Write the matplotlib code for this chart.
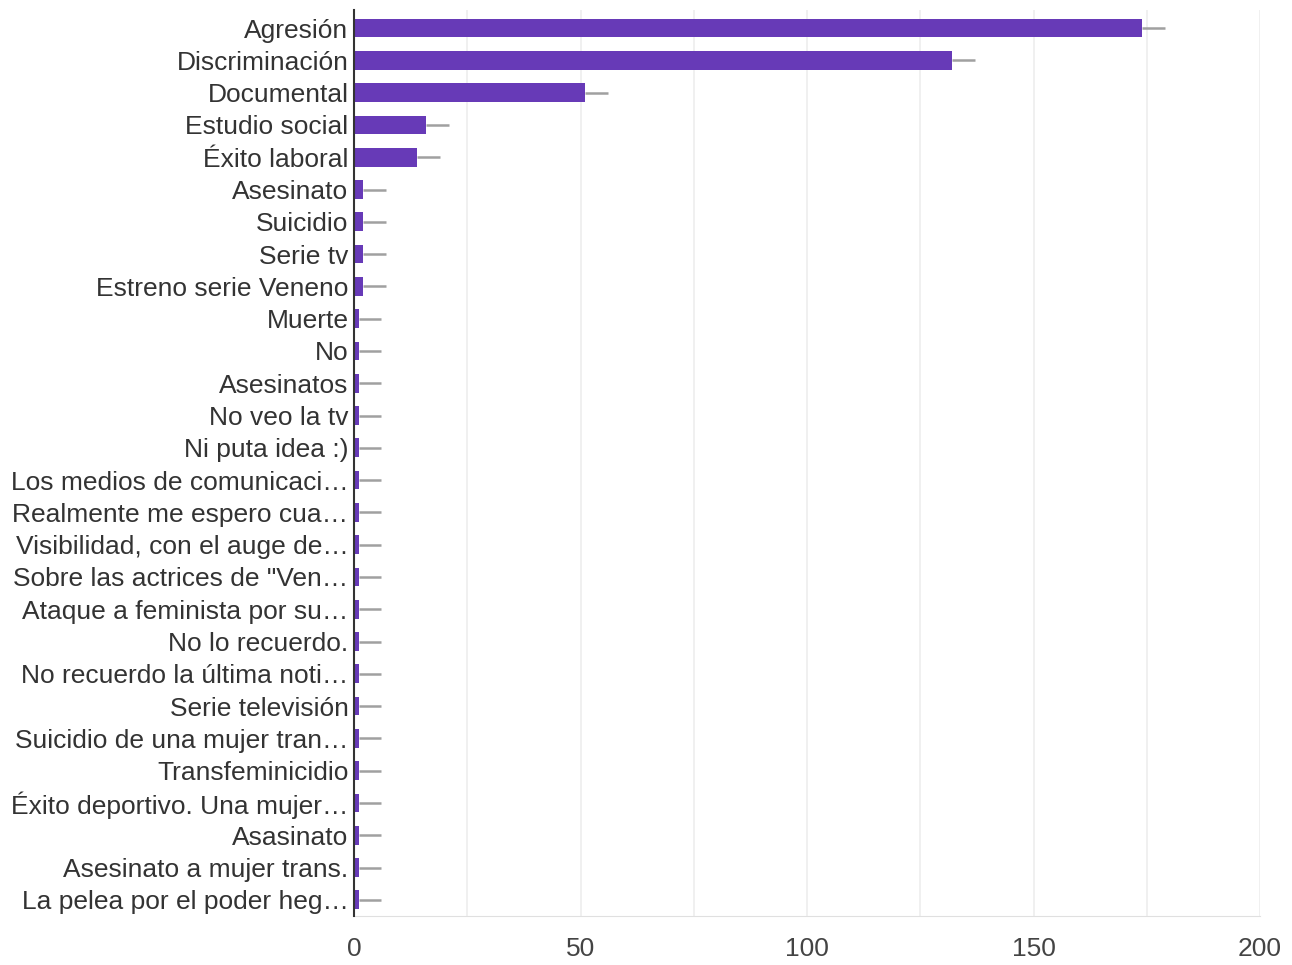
import numpy as np
import matplotlib.pyplot as plt

plt.rcParams['font.family'] = ['Liberation Sans', 'DejaVu Sans']

# categories (top to bottom) and counts
labels = [
    "Agresión", "Discriminación", "Documental", "Estudio social", "Éxito laboral",
    "Asesinato", "Suicidio", "Serie tv", "Estreno serie Veneno", "Muerte", "No",
    "Asesinatos", "No veo la tv", "Ni puta idea :)", "Los medios de comunicaci…",
    "Realmente me espero cua…", "Visibilidad, con el auge de…",
    "Sobre las actrices de \"Ven…", "Ataque a feminista por su…", "No lo recuerdo.",
    "No recuerdo la última noti…", "Serie televisión", "Suicidio de una mujer tran…",
    "Transfeminicidio", "Éxito deportivo. Una mujer…", "Asasinato",
    "Asesinato a mujer trans.", "La pelea por el poder heg…",
]
counts = [174, 132, 51, 16, 14, 2, 2, 2, 2, 1, 1, 1, 1, 1, 1, 1, 1, 1, 1, 1, 1, 1, 1, 1, 1, 1, 1, 1]
errors = [5] * len(counts)
xticks = [0, 50, 100, 150, 200]

fig = plt.figure(figsize=(12.92, 9.65), dpi=100)
ax = fig.add_axes([354 / 1292, 1 - 916 / 965, 906 / 1292, 906 / 965])

y = np.arange(len(labels))
ax.barh(y, counts, height=0.58, color="#673ab7", zorder=3)
ax.errorbar(counts, y, xerr=[np.zeros(len(errors)), errors], fmt="none",
            ecolor="#a0a0a0", elinewidth=1.8, capsize=0, zorder=4)

ax.set_ylim(len(labels) - 0.5, -0.56)
ax.set_xlim(0, 200)
ax.set_yticks(y)
ax.set_yticklabels(labels, fontsize=19, color="#333333")
ax.set_xticks(xticks)
ax.set_xticklabels([str(t) for t in xticks], fontsize=19, color="#444444")
ax.set_xticks(np.arange(25, 200, 50), minor=True)
ax.tick_params(axis="y", length=0, pad=4)
ax.tick_params(axis="x", which="both", length=0, pad=15)
ax.grid(axis="x", which="both", color="#eeeeee", linewidth=1.2, zorder=0)

for s in ["top", "right"]:
    ax.spines[s].set_visible(False)
ax.spines["bottom"].set_color("#e0e0e0")
ax.spines["left"].set_color("#333333")
ax.spines["left"].set_linewidth(1.5)
ax.spines["left"].set_zorder(5)

fig.savefig("out.png", dpi=100)
